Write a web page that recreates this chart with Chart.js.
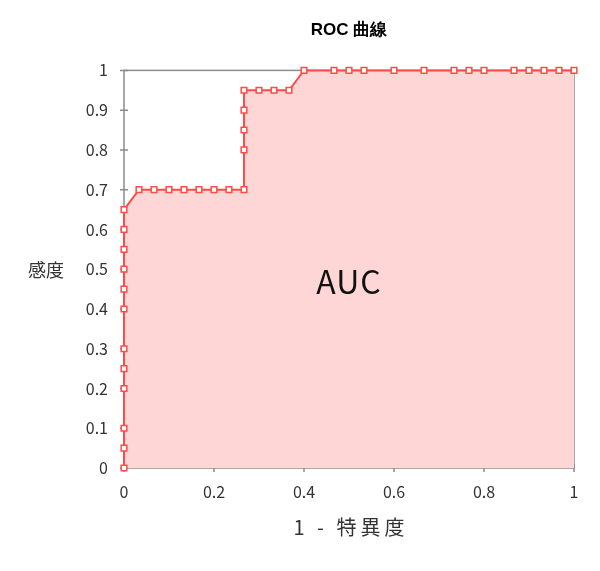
<!DOCTYPE html>
<html>
<head>
<meta charset="utf-8">
<script src="https://cdn.jsdelivr.net/npm/chart.js@4/dist/chart.umd.min.js"></script>
<style>
  html, body { margin: 0; padding: 0; background: #fff; }
  #wrap { width: 600px; height: 571px; }
</style>
</head>
<body>
<div id="wrap"><canvas id="roc"></canvas></div>
<script>
// ROC curve: 1 - specificity (x) vs sensitivity (y)
const fpr = [
  0, 0, 0, 0, 0, 0, 0, 0, 0, 0, 0, 0,
  1/30, 2/30, 3/30, 4/30, 5/30, 6/30, 7/30, 8/30,
  8/30, 8/30, 8/30, 8/30,
  9/30, 10/30, 11/30,
  12/30, 14/30, 15/30, 16/30, 18/30, 20/30, 22/30, 23/30, 24/30, 26/30, 27/30, 28/30, 29/30, 1,
];
const tpr = [
  0, 0.05, 0.1, 0.2, 0.25, 0.3, 0.4, 0.45, 0.5, 0.55, 0.6, 0.65,
  0.7, 0.7, 0.7, 0.7, 0.7, 0.7, 0.7, 0.7,
  0.8, 0.85, 0.9, 0.95,
  0.95, 0.95, 0.95,
  1, 1, 1, 1, 1, 1, 1, 1, 1, 1, 1, 1, 1, 1,
];

const titleText = 'ROC 曲線';
const xTitle = '1 - 特異度';
const yTitle = '感度';
const areaLabel = 'AUC';

const RED = '#ff4a4a';
const AXIS = '#8c8c8c';
const TEXT = '#333';
const JP = '"Noto Sans CJK JP", "Noto Sans", sans-serif';

/** Frame, crossing tick marks and free-standing labels. */
const decor = {
  id: 'decor',
  beforeDatasetsDraw(chart) {
    const { ctx, chartArea: a, scales: { x, y } } = chart;
    ctx.save();
    ctx.strokeStyle = AXIS;
    ctx.lineWidth = 1.5;
    ctx.strokeRect(a.left, a.top, a.right - a.left, a.bottom - a.top);
    ctx.beginPath();
    x.ticks.forEach(t => {
      const px = x.getPixelForValue(t.value);
      ctx.moveTo(px, a.bottom - 4); ctx.lineTo(px, a.bottom + 4);
    });
    y.ticks.forEach(t => {
      const py = y.getPixelForValue(t.value);
      ctx.moveTo(a.left - 4, py); ctx.lineTo(a.left + 4, py);
    });
    ctx.stroke();
    ctx.restore();
  },
  afterDraw(chart) {
    const { ctx, chartArea: a } = chart;
    const cx = (a.left + a.right) / 2;
    ctx.save();
    ctx.textAlign = 'center';
    ctx.textBaseline = 'middle';
    ctx.fillStyle = '#111';
    ctx.font = '32px ' + JP;
    ctx.letterSpacing = '1px';
    ctx.fillText(areaLabel, cx, 282);
    ctx.fillStyle = TEXT;
    ctx.font = '20px ' + JP;
    ctx.letterSpacing = '4px';
    ctx.fillText(xTitle, cx + 2, 527);
    ctx.letterSpacing = '0px';
    ctx.font = '18px ' + JP;
    ctx.fillText(yTitle, 46, 270);
    ctx.restore();
  },
};

new Chart(document.getElementById('roc'), {
  type: 'line',
  data: {
    datasets: [{
      data: fpr.map((v, i) => ({ x: v, y: tpr[i] })),
      borderColor: RED,
      borderWidth: 2,
      backgroundColor: '#ffd6d6',
      fill: 'origin',
      tension: 0,
      pointStyle: 'rect',
      pointRadius: 4,
      pointBorderWidth: 1.5,
      pointBackgroundColor: '#fff',
      pointBorderColor: RED,
      clip: false,
    }],
  },
  options: {
    responsive: true, maintainAspectRatio: false, animation: false,
    layout: { padding: { left: 0, right: 26, top: 0, bottom: 0 } },
    plugins: {
      legend: { display: false },
      tooltip: { enabled: false },
      title: {
        display: true, text: titleText, fullSize: false, color: '#000',
        font: { family: '"Liberation Sans", Arial, sans-serif', size: 17, weight: 'bold' },
        padding: { top: 20, bottom: 30 },
      },
    },
    scales: {
      x: {
        type: 'linear', min: 0, max: 1,
        afterFit: s => { s.height = 103; },
        border: { display: false },
        grid: { display: false, drawTicks: false },
        ticks: { stepSize: 0.2, padding: 14, maxRotation: 0, color: TEXT, font: { family: JP, size: 16 },
          callback: v => String(+v.toFixed(1)) },
      },
      y: {
        type: 'linear', min: 0, max: 1,
        afterFit: s => { s.width = 124; },
        border: { display: false },
        grid: { display: false, drawTicks: false },
        ticks: { stepSize: 0.1, padding: 16, color: TEXT, font: { family: JP, size: 16 },
          callback: v => String(+v.toFixed(1)) },
      },
    },
  },
  plugins: [decor],
});
</script>
</body>
</html>
